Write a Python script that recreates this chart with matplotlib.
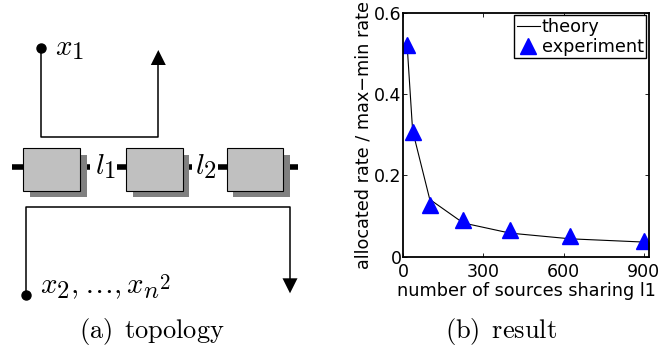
import matplotlib
matplotlib.use("Agg")
import matplotlib.pyplot as plt
import matplotlib._mathtext as mathtext_internals
from matplotlib.patches import Rectangle, Polygon

plt.rcParams["mathtext.fontset"] = "cm"
plt.rcParams["font.family"] = "DejaVu Sans"
# the sketch uses fairly large subscripts
mathtext_internals.SHRINK_FACTOR = 0.85

# data for panel (b)
sources = [16, 36, 100, 225, 400, 625, 900]
theory = [0.515, 0.31, 0.141, 0.083, 0.058, 0.044, 0.036]
experiment = [0.52, 0.307, 0.127, 0.090, 0.065, 0.050, 0.038]
xticks = [0, 300, 600, 900]
yticks = [0, 0.2, 0.4, 0.6]
ytick_labels = ["0", "0.2", "0.4", "0.6"]

fig = plt.figure(figsize=(6.59, 3.52), dpi=100)

# panel (a): topology sketch, pixel coordinates
bg = fig.add_axes([0, 0, 1, 1])
bg.set_xlim(0, 659)
bg.set_ylim(352, 0)
bg.axis("off")

box_left = [23.3, 126, 226.7]
box_w, box_h, box_top = 56.7, 42.4, 148.3
shadow = 6.5
for bx in box_left:
    bg.add_patch(Rectangle((bx + shadow, box_top + shadow), box_w, box_h,
                           fc="#808080", ec="none", zorder=2))
    bg.add_patch(Rectangle((bx, box_top), box_w, box_h,
                           fc="#c0c0c0", ec="black", lw=0.8, zorder=3))

link_y = 167.3
for x0, x1 in [(11.7, 23.3), (80, 90), (117, 126), (182.7, 192), (218, 226.7), (283.3, 298.3)]:
    bg.plot([x0, x1], [link_y, link_y], color="black", lw=4,
            solid_capstyle="butt", zorder=1)

# flow x1 (short path) and flows x2..x_{n^2} (long path)
bg.plot([40.7, 40.7, 158.3, 158.3], [48.3, 136.7, 136.7, 64], color="black", lw=1.1)
bg.add_patch(Polygon([(150.8, 65), (165.8, 65), (158.3, 50)], closed=True, fc="black", ec="none"))
bg.plot([40.7], [48.3], "o", color="black", ms=6.5)

bg.plot([26, 26, 290, 290], [295, 206.7, 206.7, 279], color="black", lw=1.1)
bg.add_patch(Polygon([(282.5, 278.3), (297.5, 278.3), (290, 293.3)], closed=True, fc="black", ec="none"))
bg.plot([26], [295], "o", color="black", ms=6.5)

bg.text(55, 55, r"$x_{\mathsf{1}}$", fontsize=21, va="baseline")
bg.text(40, 293.3, r"$x_{\mathsf{2}},\ldots,x_{n^{\mathsf{2}}}$", fontsize=21, va="baseline")
bg.text(95, 174, r"$l_{\mathsf{1}}$", fontsize=21, va="baseline")
bg.text(195, 174, r"$l_{\mathsf{2}}$", fontsize=21, va="baseline")

bg.text(152, 338, r"$\mathrm{(a)}\enspace\mathrm{topology}$", fontsize=19, ha="center", va="baseline")
bg.text(501, 338, r"$\mathrm{(b)}\enspace\mathrm{result}$", fontsize=19, ha="center", va="baseline")

# panel (b): result
ax = fig.add_axes([0.6115, 0.2707, 0.3733, 0.6933])
ax.plot(sources, theory, color="black", lw=0.8, label="theory")
ax.plot(sources, experiment, ls="none", marker="^", ms=11, color="blue",
        label="experiment")
ax.set_xlim(0, 919)
ax.set_ylim(0, 0.6)
ax.set_xticks(xticks)
ax.set_yticks(yticks)
ax.set_yticklabels(ytick_labels)
ax.tick_params(direction="in", top=True, right=True, length=3, width=0.6,
               labelsize=12.5)
ax.tick_params(axis="x", pad=4.5)
ax.tick_params(axis="y", pad=1)
for lbl in ax.get_yticklabels():
    lbl.set_va("center_baseline")
for s in ax.spines.values():
    s.set_linewidth(1.3)

ax.set_xlabel("number of sources sharing l1", fontsize=12.7, labelpad=0.5)
ax.set_ylabel("allocated rate / max\u2212min rate", fontsize=12.7, labelpad=1)

leg = ax.legend(loc="upper right", fontsize=12.7, fancybox=False, edgecolor="black",
                framealpha=1, handlelength=1.3, handletextpad=0.1, borderpad=0.15,
                labelspacing=0.1, borderaxespad=0.15)
leg.get_frame().set_linewidth(1.0)

fig.savefig("out.png", dpi=100)
